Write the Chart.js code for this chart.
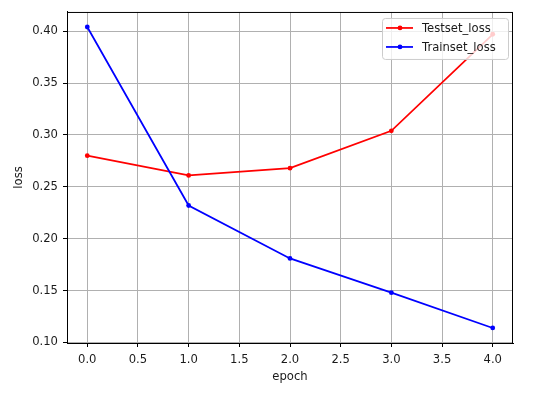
<!DOCTYPE html>
<html lang="en">
<head>
    <meta charset="UTF-8">
    <title>Loss per epoch</title>
    <script src="https://cdn.jsdelivr.net/npm/chart.js"></script>
    <style>
        html, body { margin: 0; padding: 0; background: #fff; }
        #wrap { width: 536px; height: 393px; }
    </style>
</head>
<body>
    <div id="wrap"><canvas id="myChart" width="536" height="393"></canvas></div>

    <script>
        const epochs = [0, 1, 2, 3, 4];
        const testLoss = [0.280, 0.261, 0.268, 0.304, 0.397];
        const trainLoss = [0.404, 0.232, 0.181, 0.148, 0.114];
        const xTicks = [0, 0.5, 1, 1.5, 2, 2.5, 3, 3.5, 4];
        const yTicks = [0.10, 0.15, 0.20, 0.25, 0.30, 0.35, 0.40];

        const FONT = { family: 'DejaVu Sans', size: 11.6 };
        const TEXT = '#1a1a1a';

        // matplotlib-ish box around the axes + legend in the upper right
        const frameAndLegend = {
            id: 'frameAndLegend',
            afterDraw(chart) {
                const { ctx, chartArea: a } = chart;
                ctx.save();
                ctx.strokeStyle = '#000';
                ctx.lineWidth = 1;
                ctx.strokeRect(a.left + 0.5, a.top + 0.5, a.right - a.left - 1, a.bottom - a.top);

                const w = 126, h = 41;
                const x = a.right - 5 - w, y = a.top + 6;
                ctx.beginPath();
                ctx.roundRect(x + 0.5, y + 0.5, w, h, 3);
                ctx.fillStyle = 'rgba(255,255,255,0.8)';
                ctx.fill();
                ctx.strokeStyle = '#cccccc';
                ctx.stroke();

                ctx.font = FONT.size + 'px "' + FONT.family + '"';
                ctx.textBaseline = 'middle';
                chart.data.datasets.forEach((ds, i) => {
                    const ry = y + 10 + i * 19;
                    ctx.strokeStyle = ds.borderColor;
                    ctx.lineWidth = 1.75;
                    ctx.beginPath();
                    ctx.moveTo(x + 4, ry);
                    ctx.lineTo(x + 31, ry);
                    ctx.stroke();
                    ctx.fillStyle = ds.borderColor;
                    ctx.beginPath();
                    ctx.arc(x + 18, ry, 2.4, 0, Math.PI * 2);
                    ctx.fill();
                    ctx.fillStyle = TEXT;
                    ctx.fillText(ds.label, x + 40, ry + 1);
                });
                ctx.restore();
            }
        };

        const ctx = document.getElementById('myChart').getContext('2d');
        const myChart = new Chart(ctx, {
            type: 'line',
            data: {
                labels: epochs,
                datasets: [{
                    label: 'Testset_loss',
                    data: epochs.map((e, i) => ({ x: e, y: testLoss[i] })),
                    borderColor: 'red',
                    backgroundColor: 'red',
                    borderWidth: 1.75,
                    pointRadius: 2.4,
                    pointBorderWidth: 0,
                    order: 1
                }, {
                    label: 'Trainset_loss',
                    data: epochs.map((e, i) => ({ x: e, y: trainLoss[i] })),
                    borderColor: 'blue',
                    backgroundColor: 'blue',
                    borderWidth: 1.75,
                    pointRadius: 2.4,
                    pointBorderWidth: 0,
                    order: 0
                }]
            },
            options: {
                responsive: false,
                animation: false,
                events: [],
                layout: { padding: { top: 10, right: 23, left: 0, bottom: 0 } },
                plugins: { legend: { display: false }, tooltip: { enabled: false } },
                scales: {
                    x: {
                        type: 'linear',
                        min: -0.2,
                        max: 4.2,
                        afterBuildTicks: s => { s.ticks = xTicks.map(v => ({ value: v })); },
                        afterFit: s => { s.height = 50; },
                        ticks: {
                            color: TEXT, font: FONT, padding: 6, maxRotation: 0,
                            callback: v => v.toFixed(1)
                        },
                        grid: { color: '#b0b0b0', lineWidth: 1, tickColor: '#000', tickLength: 4 },
                        border: { color: '#000', width: 1 },
                        title: { display: true, text: 'epoch', color: TEXT, font: FONT, padding: { top: 0, bottom: 9 } }
                    },
                    y: {
                        type: 'linear',
                        min: 0.0995,
                        max: 0.4185,
                        afterBuildTicks: s => { s.ticks = yTicks.map(v => ({ value: v })); },
                        afterFit: s => { s.width = 67; },
                        ticks: {
                            color: TEXT, font: FONT, padding: 5,
                            callback: v => v.toFixed(2)
                        },
                        grid: { color: '#b0b0b0', lineWidth: 1, tickColor: '#000', tickLength: 4 },
                        border: { color: '#000', width: 1 },
                        title: { display: true, text: 'loss', color: TEXT, font: FONT, padding: { top: 12, bottom: 0 } }
                    }
                }
            },
            plugins: [frameAndLegend]
        });
    </script>
</body>
</html>
